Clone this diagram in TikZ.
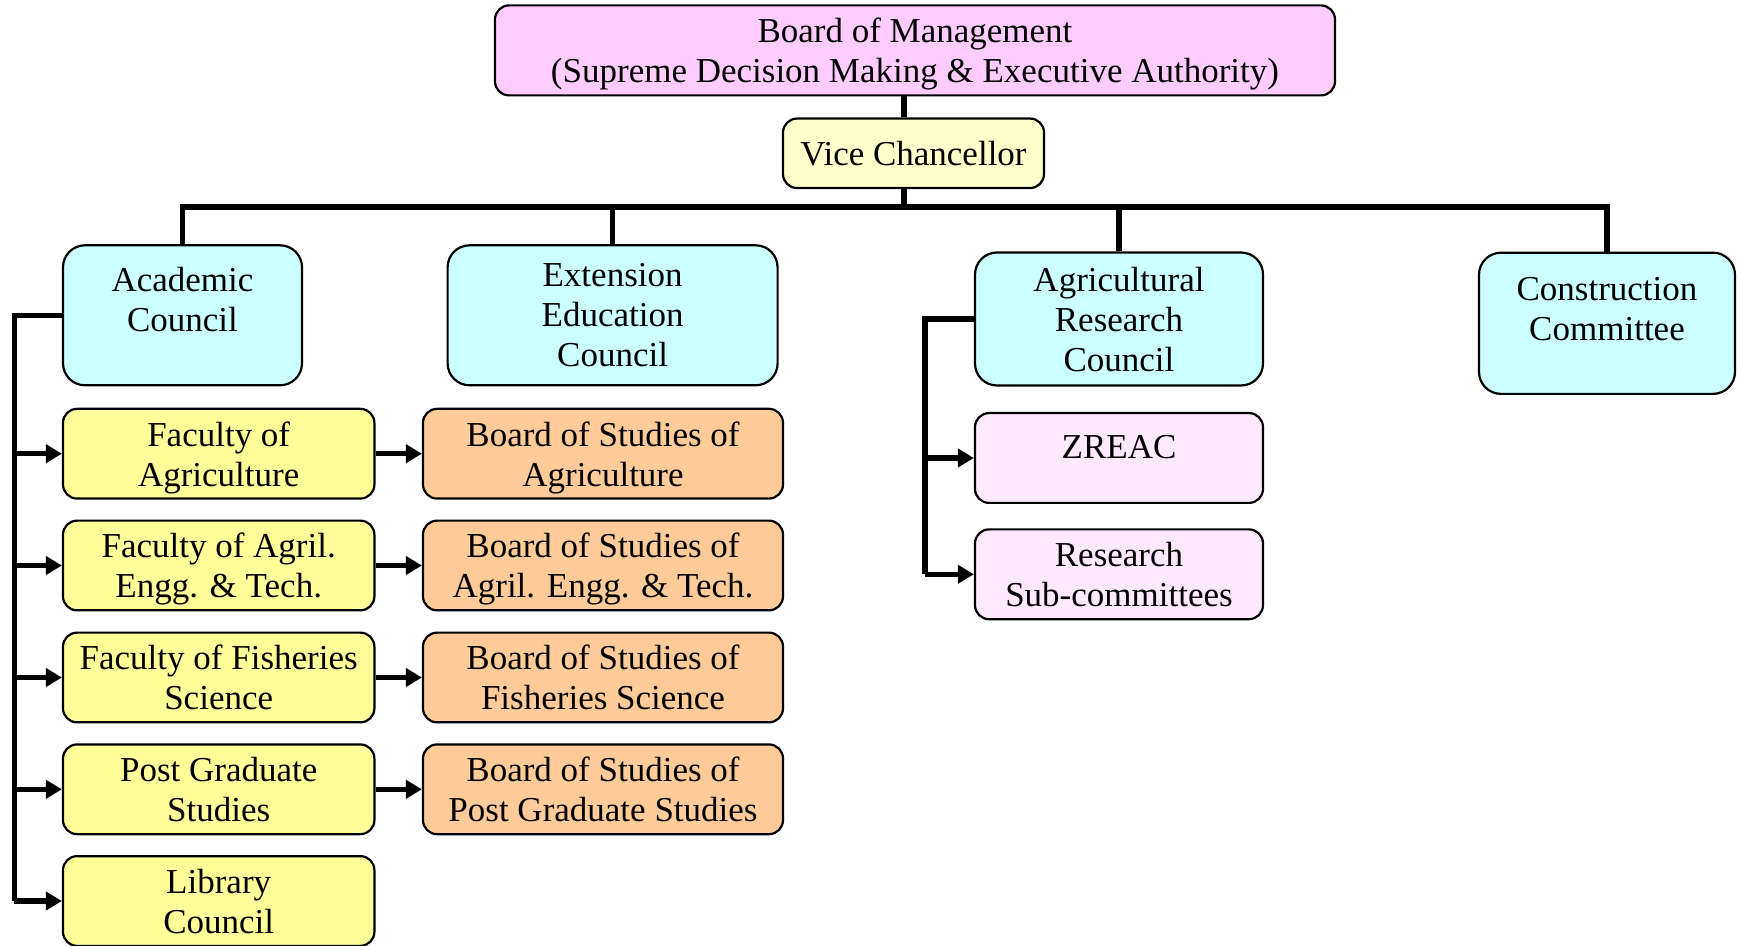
\documentclass[tikz,border=0pt]{standalone}
\usepackage{fontspec}
\setmainfont{Liberation Serif}
\usetikzlibrary{arrows.meta}

\definecolor{bompink}{HTML}{FFCCFF}
\definecolor{vcyellow}{HTML}{FFFFCC}
\definecolor{councilcyan}{HTML}{CCFFFF}
\definecolor{facyellow}{HTML}{FFFF99}
\definecolor{bosorange}{HTML}{FFCC99}
\definecolor{subpink}{HTML}{FFE9FF}

\begin{document}
\begin{tikzpicture}[x=0.5pt, y=-0.5pt,
    font=\fontsize{17.5}{20}\selectfont,
    box/.style={draw, line width=1.1pt, rounded corners=7pt, align=center, inner sep=2pt},
    council/.style={box, fill=councilcyan, rounded corners=11pt, minimum height=70pt},
    faculty/.style={box, fill=facyellow, minimum width=155.7pt, minimum height=44.85pt, text depth=0pt},
    studies/.style={box, fill=bosorange, minimum width=180pt, minimum height=44.85pt, text depth=0pt},
    research/.style={box, fill=subpink, minimum width=144pt, minimum height=44.9pt},
    conn/.style={line width=2.7pt},
    arr/.style={conn, -{Triangle[length=8pt, width=9pt]}}]

      % page frame
      \useasboundingbox (0,0) rectangle (1737,946);

      % top of the chart
      \node[box, fill=bompink, minimum width=420pt, minimum height=45pt, text depth=-3pt] (bom) at (915,50.4)
        {Board of Management\\(Supreme Decision Making \& Executive Authority)};
      \node[box, fill=vcyellow, minimum width=130.5pt, minimum height=34.75pt] (vc) at (913.5,153.3)
        {Vice Chancellor};

      % councils
      \node[council, minimum width=119.5pt, text depth=16pt] (acad) at (182.5,315.3) {Academic\\Council};
      \node[council, minimum width=165pt] (ext) at (612.6,315.3) {Extension\\Education\\Council};
      \node[council, minimum width=144pt, minimum height=66.5pt, text depth=-2pt] (arc) at (1119,319) {Agricultural\\Research\\Council};
      \node[council, minimum width=128pt, minimum height=70.6pt, text depth=14pt] (cons) at (1607,323.3) {Construction\\Committee};

      % faculties (left column)
      \node[faculty] (fagr) at (218.7,453.7) {Faculty of\\Agriculture};
      \node[faculty] (feng) at (218.7,565.5) {Faculty of Agril.\\Engg. \& Tech.};
      \node[faculty] (ffis) at (218.7,677.5) {Faculty of Fisheries\\Science};
      \node[faculty] (fpg)  at (218.7,789.3) {Post Graduate\\Studies};
      \node[faculty] (lib)  at (218.7,901.0) {Library\\Council};

      % boards of studies
      \node[studies] (bagr) at (603,453.7) {Board of Studies of\\Agriculture};
      \node[studies] (beng) at (603,565.5) {Board of Studies of\\Agril. Engg. \& Tech.};
      \node[studies] (bfis) at (603,677.5) {Board of Studies of\\Fisheries Science};
      \node[studies] (bpg)  at (603,789.3) {Board of Studies of\\Post Graduate Studies};

      % research bodies
      \node[research, text depth=11pt] (zreac) at (1119,458) {ZREAC};
      \node[research, text depth=-2pt] (rsub) at (1119,574.3) {Research\\Sub-committees};

      % bus lines (internal positions)
      \coordinate (bar)  at (904,207);
      \coordinate (lbus) at (14.4,0);
      \coordinate (rbus) at (925,0);

      % board -> vice chancellor -> councils
      \draw[conn] (bom.south -| bar) -- (vc.north -| bar);
      \draw[conn] (vc.south -| bar) -- (bar);
      \draw[conn] (acad.north) |- (bar) -| (cons.north);
      \draw[conn] (ext.north) -- (ext.north |- bar);
      \draw[conn] (arc.north) -- (arc.north |- bar);

      % academic council -> faculties
      \draw[conn] (acad.west) -- (acad.west -| lbus) -- (lib.west -| lbus);
      \foreach \f in {fagr,feng,ffis,fpg,lib}
        \draw[arr] (\f.west -| lbus) -- (\f.west);

      % faculties -> boards of studies
      \foreach \f/\b in {fagr/bagr,feng/beng,ffis/bfis,fpg/bpg}
        \draw[arr] (\f.east) -- (\b.west);

      % research council -> sub bodies
      \draw[conn] (arc.west) -- (arc.west -| rbus) -- (rsub.west -| rbus);
      \foreach \r in {zreac,rsub}
        \draw[arr] (\r.west -| rbus) -- (\r.west);

    \end{tikzpicture}
\end{document}
